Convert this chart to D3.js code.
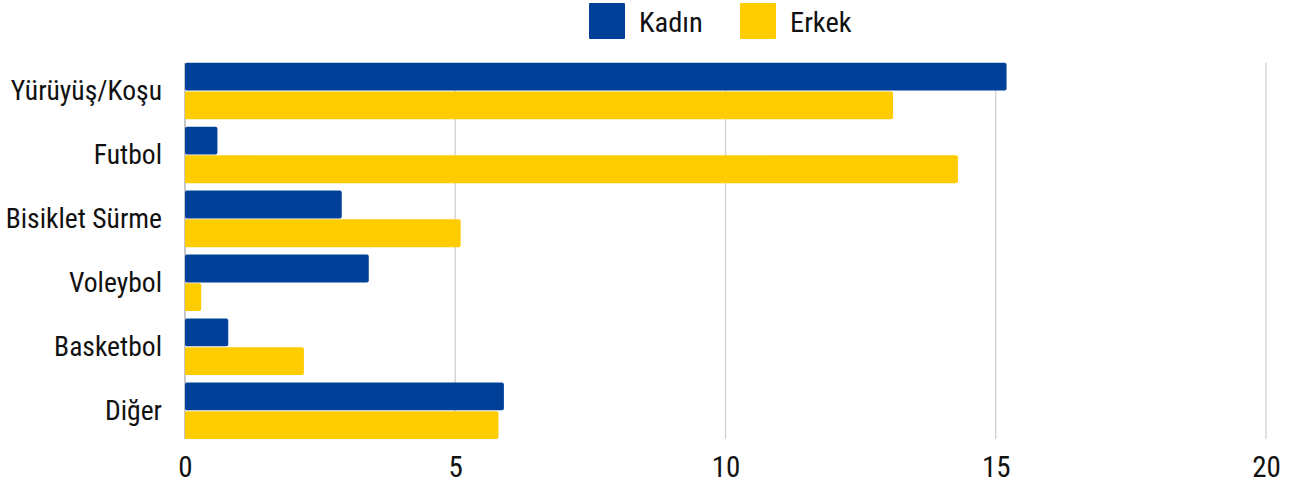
<!DOCTYPE html>
<html>
<head>
<meta charset="utf-8">
<script src="https://cdn.jsdelivr.net/npm/d3@7"></script>
<style>
  body { margin: 0; background: #fff; }
  text { font-family: "Roboto Condensed", "Liberation Sans Narrow", "Arial Narrow", Roboto, sans-serif; fill: #111; }
</style>
</head>
<body>
<svg></svg>
<script>
var width = 1289, height = 483;

var categories = ['Yürüyüş/Koşu', 'Futbol', 'Bisiklet Sürme', 'Voleybol', 'Basketbol', 'Diğer'];
var seriesNames = ['Kadın', 'Erkek'];
var kadin = [15.2, 0.6, 2.9, 3.4, 0.8, 5.9];
var erkek = [13.1, 14.3, 5.1, 0.3, 2.2, 5.8];
var xTicks = [0, 5, 10, 15, 20];

var colors = ['#004098', '#ffcc00'];

var svg = d3.select('svg')
    .attr('width', width)
    .attr('height', height);

var x = d3.scaleLinear()
    .domain([0, 20])
    .range([185, 1266]);

var y = d3.scaleBand()
    .domain(categories)
    .range([62.7, 439])
    .paddingInner(0.116)
    .paddingOuter(0);

var ySub = d3.scaleBand()
    .domain(seriesNames)
    .range([0, y.bandwidth()])
    .paddingInner(0.03);

// gridlines
svg.append('g')
    .selectAll('line')
    .data(xTicks)
    .enter()
    .append('line')
        .attr('x1', d => x(d))
        .attr('x2', d => x(d))
        .attr('y1', 62.7)
        .attr('y2', 439)
        .attr('stroke', d => d === 0 ? '#a8a8a8' : '#d0d0d0')
        .attr('stroke-width', 1.3);

// x axis labels
var xAxis = d3.axisBottom(x).tickValues(xTicks).tickSize(0).tickPadding(0);
svg.append('g')
    .attr('transform', 'translate(0,456)')
    .call(xAxis)
    .call(g => g.select('.domain').remove())
    .selectAll('text')
        .attr('dy', '0.71em')
        .style('font-size', '29px')
        .style('font-family', null);

// category labels
var yAxis = d3.axisLeft(y).tickSize(0).tickPadding(23);
svg.append('g')
    .attr('transform', `translate(${x(0)},0)`)
    .call(yAxis)
    .call(g => g.select('.domain').remove())
    .selectAll('text')
        .style('font-size', '27.6px')
        .style('font-family', null);

var rows = categories.map((c, i) => ({category: c, values: [kadin[i], erkek[i]]}));

svg.append('g')
    .selectAll('g')
    .data(rows)
    .enter()
    .append('g')
        .attr('transform', d => `translate(0,${y(d.category)})`)
    .selectAll('rect')
    .data(d => d.values.map((v, j) => ({name: seriesNames[j], value: v, idx: j})))
    .enter()
    .append('rect')
        .attr('x', x(0))
        .attr('y', d => ySub(d.name))
        .attr('width', d => x(d.value) - x(0))
        .attr('height', ySub.bandwidth())
        .attr('rx', 2)
        .attr('fill', d => colors[d.idx]);

// legend
var legendX = [589, 740];
var legend = svg.append('g')
    .selectAll('g')
    .data(seriesNames)
    .enter()
    .append('g')
        .attr('transform', (d, i) => `translate(${legendX[i]},3)`);

legend.append('rect')
    .attr('width', 36)
    .attr('height', 36)
    .attr('rx', 1)
    .attr('fill', (d, i) => colors[i]);

legend.append('text')
    .attr('x', 50)
    .attr('y', 19)
    .attr('dy', '0.35em')
    .style('font-size', '28.5px')
    .text(d => d);
</script>
</body>
</html>
